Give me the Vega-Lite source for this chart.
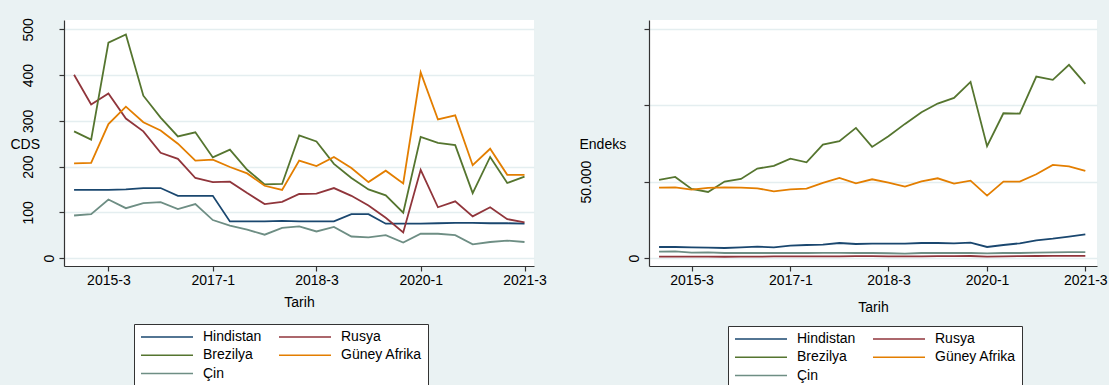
{
  "$schema": "https://vega.github.io/schema/vega-lite/v6.json",
  "background": "#eaf2f3",
  "padding": {"left": 10, "top": 17, "right": 1, "bottom": 2},
  "autosize": {"type": "pad"},
  "bounds": "flush",
  "spacing": 115,
  "config": {
    "font": "Liberation Sans",
    "view": {"stroke": null, "fill": "white"},
    "axis": {
      "labelFont": "Liberation Sans", "titleFont": "Liberation Sans",
      "labelFontSize": 14, "titleFontSize": 14, "titleFontWeight": "normal",
      "labelColor": "#000", "titleColor": "#000",
      "domainColor": "#333", "tickColor": "#333", "domainWidth": 1.2, "tickWidth": 1.2,
      "gridColor": "#e4eef0", "gridWidth": 1.5
    },
    "legend": {"labelFont": "Liberation Sans", "labelFontSize": 14, "labelColor": "#000"}
  },
  "data": {"values": [
    {"date":"2015-01-01","country":"Hindistan","cds":149,"endeks":7200},
    {"date":"2015-04-01","country":"Hindistan","cds":149,"endeks":7200},
    {"date":"2015-07-01","country":"Hindistan","cds":149,"endeks":6990},
    {"date":"2015-10-01","country":"Hindistan","cds":150,"endeks":6770},
    {"date":"2016-01-01","country":"Hindistan","cds":153,"endeks":6550},
    {"date":"2016-04-01","country":"Hindistan","cds":153,"endeks":6990},
    {"date":"2016-07-01","country":"Hindistan","cds":136,"endeks":7420},
    {"date":"2016-10-01","country":"Hindistan","cds":136,"endeks":6990},
    {"date":"2017-01-01","country":"Hindistan","cds":136,"endeks":8080},
    {"date":"2017-04-01","country":"Hindistan","cds":80,"endeks":8510},
    {"date":"2017-07-01","country":"Hindistan","cds":80,"endeks":8730},
    {"date":"2017-10-01","country":"Hindistan","cds":80,"endeks":9820},
    {"date":"2018-01-01","country":"Hindistan","cds":81,"endeks":9170},
    {"date":"2018-04-01","country":"Hindistan","cds":80,"endeks":9390},
    {"date":"2018-07-01","country":"Hindistan","cds":80,"endeks":9390},
    {"date":"2018-10-01","country":"Hindistan","cds":80,"endeks":9390},
    {"date":"2019-01-01","country":"Hindistan","cds":96,"endeks":9820},
    {"date":"2019-04-01","country":"Hindistan","cds":96,"endeks":9820},
    {"date":"2019-07-01","country":"Hindistan","cds":75,"endeks":9600},
    {"date":"2019-10-01","country":"Hindistan","cds":75,"endeks":10040},
    {"date":"2020-01-01","country":"Hindistan","cds":75,"endeks":7200},
    {"date":"2020-04-01","country":"Hindistan","cds":76,"endeks":8510},
    {"date":"2020-07-01","country":"Hindistan","cds":77,"endeks":9600},
    {"date":"2020-10-01","country":"Hindistan","cds":77,"endeks":11570},
    {"date":"2021-01-01","country":"Hindistan","cds":76,"endeks":12660},
    {"date":"2021-04-01","country":"Hindistan","cds":76,"endeks":13970},
    {"date":"2021-07-01","country":"Hindistan","cds":75,"endeks":15500},

    {"date":"2015-01-01","country":"Rusya","cds":401,"endeks":900},
    {"date":"2015-04-01","country":"Rusya","cds":336,"endeks":900},
    {"date":"2015-07-01","country":"Rusya","cds":360,"endeks":850},
    {"date":"2015-10-01","country":"Rusya","cds":305,"endeks":850},
    {"date":"2016-01-01","country":"Rusya","cds":277,"endeks":800},
    {"date":"2016-04-01","country":"Rusya","cds":230,"endeks":850},
    {"date":"2016-07-01","country":"Rusya","cds":217,"endeks":900},
    {"date":"2016-10-01","country":"Rusya","cds":175,"endeks":1000},
    {"date":"2017-01-01","country":"Rusya","cds":166,"endeks":1100},
    {"date":"2017-04-01","country":"Rusya","cds":167,"endeks":1000},
    {"date":"2017-07-01","country":"Rusya","cds":142,"endeks":1000},
    {"date":"2017-10-01","country":"Rusya","cds":118,"endeks":1100},
    {"date":"2018-01-01","country":"Rusya","cds":123,"endeks":1200},
    {"date":"2018-04-01","country":"Rusya","cds":140,"endeks":1200},
    {"date":"2018-07-01","country":"Rusya","cds":141,"endeks":1100},
    {"date":"2018-10-01","country":"Rusya","cds":153,"endeks":1000},
    {"date":"2019-01-01","country":"Rusya","cds":136,"endeks":1100},
    {"date":"2019-04-01","country":"Rusya","cds":115,"endeks":1200},
    {"date":"2019-07-01","country":"Rusya","cds":88,"endeks":1200},
    {"date":"2019-10-01","country":"Rusya","cds":56,"endeks":1300},
    {"date":"2020-01-01","country":"Rusya","cds":193,"endeks":900},
    {"date":"2020-04-01","country":"Rusya","cds":111,"endeks":1100},
    {"date":"2020-07-01","country":"Rusya","cds":124,"endeks":1200},
    {"date":"2020-10-01","country":"Rusya","cds":91,"endeks":1300},
    {"date":"2021-01-01","country":"Rusya","cds":111,"endeks":1400},
    {"date":"2021-04-01","country":"Rusya","cds":85,"endeks":1400},
    {"date":"2021-07-01","country":"Rusya","cds":78,"endeks":1400},

    {"date":"2015-01-01","country":"Brezilya","cds":277,"endeks":51080},
    {"date":"2015-04-01","country":"Brezilya","cds":259,"endeks":53050},
    {"date":"2015-07-01","country":"Brezilya","cds":471,"endeks":45190},
    {"date":"2015-10-01","country":"Brezilya","cds":489,"endeks":43220},
    {"date":"2016-01-01","country":"Brezilya","cds":355,"endeks":50000},
    {"date":"2016-04-01","country":"Brezilya","cds":307,"endeks":51740},
    {"date":"2016-07-01","country":"Brezilya","cds":266,"endeks":58500},
    {"date":"2016-10-01","country":"Brezilya","cds":275,"endeks":60250},
    {"date":"2017-01-01","country":"Brezilya","cds":220,"endeks":65050},
    {"date":"2017-04-01","country":"Brezilya","cds":237,"endeks":62650},
    {"date":"2017-07-01","country":"Brezilya","cds":193,"endeks":74220},
    {"date":"2017-10-01","country":"Brezilya","cds":161,"endeks":76400},
    {"date":"2018-01-01","country":"Brezilya","cds":162,"endeks":85140},
    {"date":"2018-04-01","country":"Brezilya","cds":268,"endeks":72700},
    {"date":"2018-07-01","country":"Brezilya","cds":255,"endeks":79690},
    {"date":"2018-10-01","country":"Brezilya","cds":206,"endeks":87760},
    {"date":"2019-01-01","country":"Brezilya","cds":175,"endeks":95400},
    {"date":"2019-04-01","country":"Brezilya","cds":150,"endeks":101080},
    {"date":"2019-07-01","country":"Brezilya","cds":137,"endeks":104790},
    {"date":"2019-10-01","country":"Brezilya","cds":99,"endeks":115260},
    {"date":"2020-01-01","country":"Brezilya","cds":265,"endeks":73130},
    {"date":"2020-04-01","country":"Brezilya","cds":252,"endeks":94740},
    {"date":"2020-07-01","country":"Brezilya","cds":247,"endeks":94520},
    {"date":"2020-10-01","country":"Brezilya","cds":142,"endeks":118750},
    {"date":"2021-01-01","country":"Brezilya","cds":221,"endeks":116570},
    {"date":"2021-04-01","country":"Brezilya","cds":164,"endeks":126400},
    {"date":"2021-07-01","country":"Brezilya","cds":178,"endeks":113950},

    {"date":"2015-01-01","country":"Güney Afrika","cds":207,"endeks":46060},
    {"date":"2015-04-01","country":"Güney Afrika","cds":208,"endeks":46280},
    {"date":"2015-07-01","country":"Güney Afrika","cds":293,"endeks":44750},
    {"date":"2015-10-01","country":"Güney Afrika","cds":331,"endeks":45840},
    {"date":"2016-01-01","country":"Güney Afrika","cds":297,"endeks":46280},
    {"date":"2016-04-01","country":"Güney Afrika","cds":279,"endeks":46060},
    {"date":"2016-07-01","country":"Güney Afrika","cds":250,"endeks":45620},
    {"date":"2016-10-01","country":"Güney Afrika","cds":213,"endeks":43660},
    {"date":"2017-01-01","country":"Güney Afrika","cds":215,"endeks":44970},
    {"date":"2017-04-01","country":"Güney Afrika","cds":199,"endeks":45400},
    {"date":"2017-07-01","country":"Güney Afrika","cds":185,"endeks":49110},
    {"date":"2017-10-01","country":"Güney Afrika","cds":158,"endeks":52390},
    {"date":"2018-01-01","country":"Güney Afrika","cds":149,"endeks":48900},
    {"date":"2018-04-01","country":"Güney Afrika","cds":213,"endeks":51520},
    {"date":"2018-07-01","country":"Güney Afrika","cds":201,"endeks":49330},
    {"date":"2018-10-01","country":"Güney Afrika","cds":221,"endeks":46710},
    {"date":"2019-01-01","country":"Güney Afrika","cds":197,"endeks":50200},
    {"date":"2019-04-01","country":"Güney Afrika","cds":166,"endeks":52170},
    {"date":"2019-07-01","country":"Güney Afrika","cds":191,"endeks":48680},
    {"date":"2019-10-01","country":"Güney Afrika","cds":163,"endeks":50650},
    {"date":"2020-01-01","country":"Güney Afrika","cds":406,"endeks":40820},
    {"date":"2020-04-01","country":"Güney Afrika","cds":303,"endeks":50000},
    {"date":"2020-07-01","country":"Güney Afrika","cds":312,"endeks":50000},
    {"date":"2020-10-01","country":"Güney Afrika","cds":203,"endeks":54790},
    {"date":"2021-01-01","country":"Güney Afrika","cds":239,"endeks":60900},
    {"date":"2021-04-01","country":"Güney Afrika","cds":182,"endeks":60030},
    {"date":"2021-07-01","country":"Güney Afrika","cds":182,"endeks":56980},

    {"date":"2015-01-01","country":"Çin","cds":93,"endeks":4150},
    {"date":"2015-04-01","country":"Çin","cds":96,"endeks":4370},
    {"date":"2015-07-01","country":"Çin","cds":128,"endeks":3490},
    {"date":"2015-10-01","country":"Çin","cds":109,"endeks":3710},
    {"date":"2016-01-01","country":"Çin","cds":120,"endeks":3270},
    {"date":"2016-04-01","country":"Çin","cds":122,"endeks":3270},
    {"date":"2016-07-01","country":"Çin","cds":107,"endeks":3270},
    {"date":"2016-10-01","country":"Çin","cds":118,"endeks":3270},
    {"date":"2017-01-01","country":"Çin","cds":83,"endeks":3270},
    {"date":"2017-04-01","country":"Çin","cds":71,"endeks":3270},
    {"date":"2017-07-01","country":"Çin","cds":62,"endeks":3300},
    {"date":"2017-10-01","country":"Çin","cds":51,"endeks":3300},
    {"date":"2018-01-01","country":"Çin","cds":66,"endeks":3270},
    {"date":"2018-04-01","country":"Çin","cds":69,"endeks":3270},
    {"date":"2018-07-01","country":"Çin","cds":58,"endeks":3100},
    {"date":"2018-10-01","country":"Çin","cds":68,"endeks":2900},
    {"date":"2019-01-01","country":"Çin","cds":47,"endeks":3270},
    {"date":"2019-04-01","country":"Çin","cds":45,"endeks":3270},
    {"date":"2019-07-01","country":"Çin","cds":50,"endeks":3270},
    {"date":"2019-10-01","country":"Çin","cds":34,"endeks":3270},
    {"date":"2020-01-01","country":"Çin","cds":53,"endeks":3000},
    {"date":"2020-04-01","country":"Çin","cds":53,"endeks":3270},
    {"date":"2020-07-01","country":"Çin","cds":50,"endeks":3270},
    {"date":"2020-10-01","country":"Çin","cds":30,"endeks":3500},
    {"date":"2021-01-01","country":"Çin","cds":35,"endeks":3700},
    {"date":"2021-04-01","country":"Çin","cds":38,"endeks":3900},
    {"date":"2021-07-01","country":"Çin","cds":35,"endeks":3900}
  ]},
  "hconcat": [
    {
      "width": 470, "height": 246,
      "mark": {"type": "line", "strokeWidth": 1.8},
      "encoding": {
        "x": {"field": "date", "type": "temporal",
          "scale": {"type": "utc", "domain": [{"year": 2014, "month": 11, "date": 9, "utc": true}, {"year": 2021, "month": 8, "date": 20, "utc": true}]},
          "axis": {"values": [{"year": 2015, "month": 7, "date": 1, "utc": true}, {"year": 2017, "month": 1, "date": 1, "utc": true}, {"year": 2018, "month": 7, "date": 1, "utc": true}, {"year": 2020, "month": 1, "date": 1, "utc": true}, {"year": 2021, "month": 7, "date": 1, "utc": true}],
            "labelExpr": "utcFormat(datum.value, '%Y') + '-' + utcquarter(datum.value)",
            "labelFlush": false, "labelOverlap": false, "grid": false, "tickSize": 5, "labelPadding": 2,
            "title": "Tarih", "titlePadding": 8}},
        "y": {"field": "cds", "type": "quantitative",
          "scale": {"domain": [-17.5, 520.6], "nice": false, "zero": false},
          "axis": {"values": [0, 100, 200, 300, 400, 500], "labelAngle": -90, "labelAlign": "center", "labelBaseline": "bottom",
            "labelPadding": {"condition": {"test": "datum.value == 0", "value": 3}, "value": 24},
            "tickSize": 5, "grid": true, "labelOverlap": false,
            "title": "CDS", "titleAngle": 0, "titleAlign": "left", "titleBaseline": "middle", "titleX": -54, "titleY": 124}},
        "color": {"field": "country", "type": "nominal",
          "scale": {"domain": ["Hindistan", "Brezilya", "Çin", "Rusya", "Güney Afrika"], "range": ["#1a476f", "#55752f", "#6e8e84", "#90353b", "#e37e00"]},
          "legend": {"orient": "none", "legendX": 70, "legendY": 304, "direction": "vertical", "columns": 2, "title": null,
            "symbolType": "stroke", "symbolSize": 2704, "symbolStrokeWidth": 1.5, "labelOffset": 9, "columnPadding": 16, "rowPadding": 4.3,
            "clipHeight": 14, "padding": 6, "strokeColor": "#333", "fillColor": "white"}}
      }
    },
    {
      "width": 448, "height": 246,
      "mark": {"type": "line", "strokeWidth": 1.8},
      "encoding": {
        "x": {"field": "date", "type": "temporal",
          "scale": {"type": "utc", "domain": [{"year": 2014, "month": 11, "date": 6, "utc": true}, {"year": 2021, "month": 9, "date": 4, "utc": true}]},
          "axis": {"values": [{"year": 2015, "month": 7, "date": 1, "utc": true}, {"year": 2017, "month": 1, "date": 1, "utc": true}, {"year": 2018, "month": 7, "date": 1, "utc": true}, {"year": 2020, "month": 1, "date": 1, "utc": true}, {"year": 2021, "month": 7, "date": 1, "utc": true}],
            "labelExpr": "utcFormat(datum.value, '%Y') + '-' + utcquarter(datum.value)",
            "labelFlush": false, "labelOverlap": false, "grid": false, "tickSize": 5, "labelPadding": 2,
            "title": "Tarih", "titlePadding": 13}},
        "y": {"field": "endeks", "type": "quantitative",
          "scale": {"domain": [-5242, 155760], "nice": false, "zero": false},
          "axis": {"values": [0, 50000, 100000, 150000], "labelAngle": -90, "labelAlign": "center", "labelBaseline": "bottom",
            "labelExpr": "datum.value == 0 ? '0' : (datum.value == 50000 ? '50.000' : '')",
            "labelPadding": {"condition": {"test": "datum.value == 0", "value": 3}, "value": 51},
            "tickSize": 5, "grid": true, "labelOverlap": false,
            "title": "Endeks", "titleAngle": 0, "titleAlign": "left", "titleBaseline": "middle", "titleX": -70, "titleY": 124}},
        "color": {"field": "country", "type": "nominal",
          "scale": {"domain": ["Hindistan", "Brezilya", "Çin", "Rusya", "Güney Afrika"], "range": ["#1a476f", "#55752f", "#6e8e84", "#90353b", "#e37e00"]},
          "legend": {"orient": "none", "legendX": 79, "legendY": 306, "direction": "vertical", "columns": 2, "title": null,
            "symbolType": "stroke", "symbolSize": 2704, "symbolStrokeWidth": 1.5, "labelOffset": 9, "columnPadding": 16, "rowPadding": 4.3,
            "clipHeight": 14, "padding": 6, "strokeColor": "#333", "fillColor": "white"}}
      }
    }
  ],
  "resolve": {"scale": {"color": "independent"}, "legend": {"color": "independent"}}
}
